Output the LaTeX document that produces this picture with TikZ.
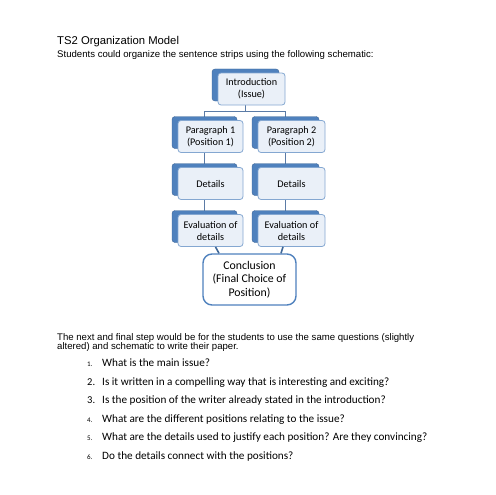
\documentclass[tikz,border=0pt]{standalone}
\usepackage{fontspec}
\setmainfont{Liberation Sans}
\newfontfamily\calib{Carlito}
\usetikzlibrary{backgrounds}
\definecolor{stackblue}{HTML}{4F81BD}
\definecolor{stackfill}{HTML}{EAF0F8}
\definecolor{linkgray}{HTML}{5B7BA6}
\tikzset{
  backbox/.style={fill=stackblue, draw=stackblue!80!black, rounded corners=3pt, minimum width=#1, minimum height=32pt, inner sep=0pt},
  frontbox/.style={fill=stackfill, draw=stackblue!70, line width=.8pt, rounded corners=3pt, minimum width=#1, minimum height=32pt, inner sep=0pt, align=center, font=\calib\fontsize{10.2}{12}\selectfont},
  endbox/.style={fill=white, draw=stackblue, line width=1.4pt, rounded corners=9pt, minimum width=93pt, minimum height=51pt, inner sep=0pt, align=center, font=\calib\fontsize{11.8}{13.5}\selectfont},
  link/.style={draw=linkgray, line width=.8pt},
  thicklink/.style={draw=stackblue!80!black, line width=1.6pt},
  item/.style={anchor=base west, inner sep=0pt, font=\calib\fontsize{11.2}{13}\selectfont},
  num/.style={anchor=base west, inner sep=0pt, font=\calib\fontsize{#1}{12}\selectfont}
}
\begin{document}
\begin{tikzpicture}[x=1pt, y=-1pt]
  \useasboundingbox (0,0) rectangle (495,495);
  % heading
  \node[anchor=base west, inner sep=0pt, font=\fontsize{11.3}{13}\selectfont] (title) at (57,45) {TS2 Organization Model};
  \node[anchor=base west, inner sep=0pt, font=\fontsize{9.6}{11}\selectfont] (lead) at (57,57) {Students could organize the sentence strips using the following schematic:};
  % stacked boxes
  \foreach \n/\x/\y/\w/\t in {intro/251.5/89/67/{Introduction\\(Issue)},
                              pa/210.5/136.5/65/{Paragraph 1\\(Position 1)},
                              pb/291.5/136.5/67/{Paragraph 2\\(Position 2)},
                              da/210.5/183.5/65/Details,
                              db/291.5/183.5/67/Details,
                              ea/210.5/230.5/65/{Evaluation of\\details},
                              eb/291.5/230.5/67/{Evaluation of\\details}}{
    \node[backbox=\w pt] (\n-back) at (\x-6,\y-4) {};
    \node[frontbox=\w pt] (\n) at (\x,\y) {\t};
  }
  \node[endbox] (concl) at (249.5,279.5) {Conclusion\\(Final Choice of\\Position)};
  \begin{scope}[on background layer]
    \draw[link] (intro-back.center) -- (intro-back.center |- 0,111) coordinate (split);
    \draw[link] (pa-back.center |- split) -- (pb-back.center |- split);
    \draw[link] (pa-back.center |- split) -- (pa-back.center);
    \draw[link] (pb-back.center |- split) -- (pb-back.center);
    \draw[link] (pa-back.center) -- (da-back.center);
    \draw[link] (pb-back.center) -- (db-back.center);
    \draw[link] (da-back.center) -- (ea-back.center);
    \draw[link] (db-back.center) -- (eb-back.center);
  \end{scope}
  \draw[thicklink] ([xshift=5pt]ea.south) -- ([xshift=-30.5pt]concl.north);
  \draw[thicklink] ([xshift=-8.5pt]eb.south) -- ([xshift=31.5pt]concl.north);
  % closing text
  \node[anchor=base west, inner sep=0pt, font=\fontsize{9.6}{11}\selectfont] (para1) at (57,340) {The next and final step would be for the students to use the same questions (slightly};
  \node[anchor=base west, inner sep=0pt, font=\fontsize{9.6}{11}\selectfont] (para2) at (57,349.5) {altered) and schematic to write their paper.};
  \foreach \k/\y/\s/\t in {1/366/7/{What is the main issue?},
                           2/385/10.5/{Is it written in a compelling way that is interesting and exciting?},
                           3/403.5/10.5/{Is the position of the writer already stated in the introduction?},
                           4/422/7/{What are the different positions relating to the issue?},
                           5/440.5/7/{What are the details used to justify each position? Are they convincing?},
                           6/459/7/{Do the details connect with the positions?}}{
    \node[num=\s] (n\k) at (87,\y) {\k.};
    \node[item] (q\k) at (102,\y) {\t};
  }
\end{tikzpicture}
\end{document}
